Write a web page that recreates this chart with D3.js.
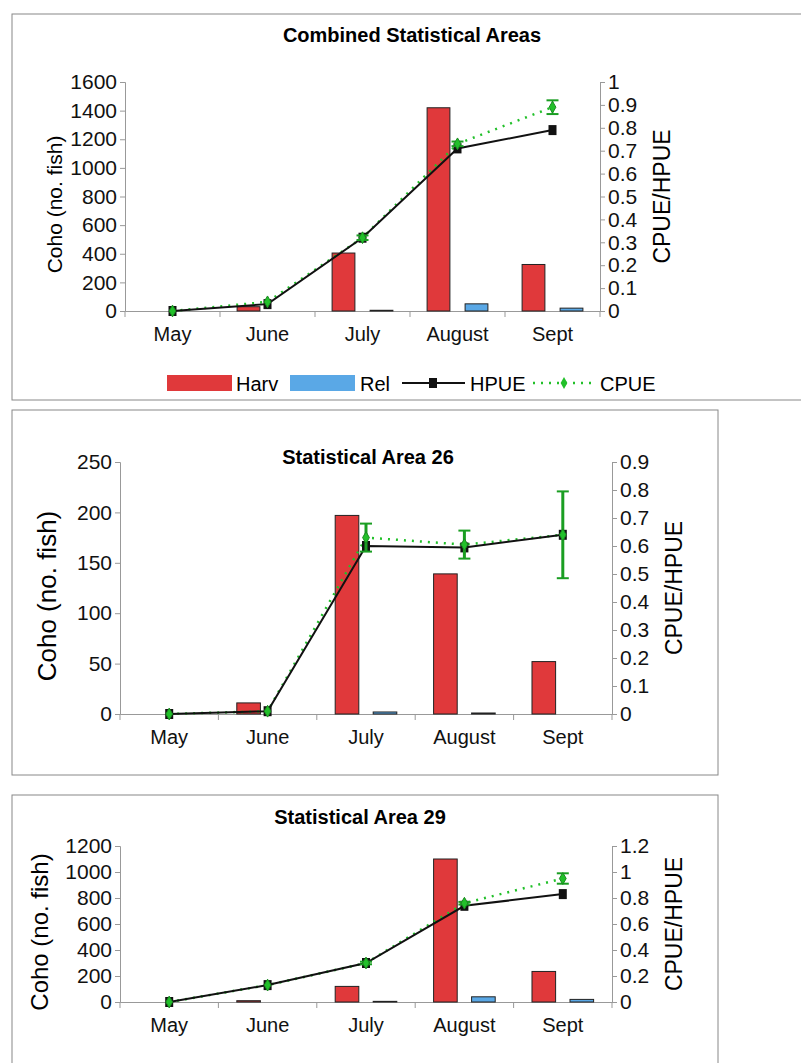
<!DOCTYPE html>
<html><head><meta charset="utf-8">
<script src="https://cdn.jsdelivr.net/npm/d3@7"></script>
<style>body{margin:0;background:#fff}svg{display:block}</style>
</head><body>
<script>
const months = ['May','June','July','August','Sept']

// Combined
const harvAll = [0,30,405,1420,325]
const relAll  = [0,0,5,50,20]
const hpueAll = [0,0.03,0.32,0.71,0.79]
const cpueAll = [0,0.04,0.32,0.73,0.89]
const cpueErrAll = [0,0.005,0.01,0.01,0.03]
// Area 26
const harv26 = [0,11,197,139,52]
const rel26  = [0,0,2,1,0]
const hpue26 = [0,0.01,0.60,0.595,0.64]
const cpue26 = [0,0.01,0.63,0.605,0.64]
const cpueErr26 = [0,0.005,0.05,0.05,0.155]
// Area 29
const harv29 = [0,10,120,1100,235]
const rel29  = [0,0,5,40,20]
const hpue29 = [0,0.13,0.30,0.74,0.83]
const cpue29 = [0,0.13,0.30,0.76,0.95]
const cpueErr29 = [0,0.005,0.01,0.01,0.04]

const leftTicksAll = [0,200,400,600,800,1000,1200,1400,1600]
const rightTicksAll = [0,0.1,0.2,0.3,0.4,0.5,0.6,0.7,0.8,0.9,1]
const leftTicks26 = [0,50,100,150,200,250]
const rightTicks26 = [0,0.1,0.2,0.3,0.4,0.5,0.6,0.7,0.8,0.9]
const leftTicks29 = [0,200,400,600,800,1000,1200]
const rightTicks29 = [0,0.2,0.4,0.6,0.8,1,1.2]

const svg = d3.select('body').append('svg').attr('width',801).attr('height',1063)
const font = '"Liberation Sans",Arial,sans-serif'

function panel(o){
	svg.append('rect').attr('x',o.box[0]).attr('y',o.box[1]).attr('width',o.box[2]).attr('height',o.box[3])
		.attr('fill','#fff').attr('stroke','#888').attr('stroke-width',1)
	svg.append('text').attr('x',o.titleX).attr('y',o.titleY).attr('text-anchor','middle')
		.attr('font-family',font).attr('font-weight','bold').attr('font-size',20).text(o.title)

	const x = d3.scaleBand().domain(months).range([o.x0,o.x1])
	const yl = d3.scaleLinear().domain([0,d3.max(o.lt)]).range([o.yb,o.yt])
	const yr = d3.scaleLinear().domain([0,d3.max(o.rt)]).range([o.yb,o.yt])
	const g = svg.append('g')

	const la = g.append('g').attr('transform',`translate(${o.x0},0)`).call(d3.axisLeft(yl).tickValues(o.lt).tickSize(5).tickFormat(d3.format('d')))
	const ra = g.append('g').attr('transform',`translate(${o.x1},0)`).call(d3.axisRight(yr).tickValues(o.rt).tickSize(5).tickFormat(d=>d3.format('~g')(d)))
	const xa = g.append('g').attr('transform',`translate(0,${o.yb})`).call(d3.axisBottom(x).tickSize(0).tickPadding(16))
	xa.selectAll('.sep').data(d3.range(6)).enter().append('line')
		.attr('x1',i=>o.x0+i*x.step()).attr('x2',i=>o.x0+i*x.step()).attr('y1',0).attr('y2',6).attr('stroke','#999')
	;[la,ra].forEach(a=>a.selectAll('text').attr('font-size',21))
	xa.selectAll('text').attr('font-size',20)
	;[la,ra,xa].forEach(a=>{
		a.selectAll('path,line').attr('stroke','#999')
		a.selectAll('text').attr('font-family',font).attr('fill','#111')
	})

	const bw = x.bandwidth()*0.24
	g.selectAll('.h').data(o.harv).enter().append('rect')
		.attr('x',(d,i)=>x(months[i])+x.bandwidth()/2-19-bw/2).attr('width',bw)
		.attr('y',d=>yl(d)).attr('height',d=>yl(0)-yl(d))
		.attr('fill','#e0393b').attr('stroke','#222').attr('stroke-width',d=>d>0?1:0)
	g.selectAll('.r').data(o.rel).enter().append('rect')
		.attr('x',(d,i)=>x(months[i])+x.bandwidth()/2+19-bw/2).attr('width',bw)
		.attr('y',d=>yl(d)).attr('height',d=>yl(0)-yl(d))
		.attr('fill','#5aa8e6').attr('stroke','#222').attr('stroke-width',d=>d>0?1:0)

	const cx = i=>x(months[i])+x.bandwidth()/2
	const line = d3.line().x((d,i)=>cx(i)).y(d=>yr(d))
	g.append('path').attr('d',line(o.cpue)).attr('fill','none').attr('stroke','#22c02a').attr('stroke-width',2.5).attr('stroke-dasharray','2,6')
	g.append('path').attr('d',line(o.hpue)).attr('fill','none').attr('stroke','#111').attr('stroke-width',2)
	g.selectAll('.hm').data(o.hpue).enter().append('rect')
		.attr('x',(d,i)=>cx(i)-4).attr('y',d=>yr(d)-5).attr('width',8).attr('height',10).attr('fill','#111')
	o.cpue.forEach((d,i)=>{
		const e = o.err[i]
		if(e>0.008){
			g.append('line').attr('x1',cx(i)).attr('x2',cx(i)).attr('y1',yr(d-e)).attr('y2',yr(d+e)).attr('stroke','#1a9e22').attr('stroke-width',o.errW)
			;[d-e,d+e].forEach(v=>g.append('line').attr('x1',cx(i)-6).attr('x2',cx(i)+6).attr('y1',yr(v)).attr('y2',yr(v)).attr('stroke','#1a9e22').attr('stroke-width',2))
		}
	})
	g.selectAll('.cm').data(o.cpue).enter().append('path')
		.attr('transform',(d,i)=>`translate(${cx(i)},${yr(d)})`).attr('d',d3.symbol(d3.symbolDiamond,40)).attr('fill','#22c02a').attr('stroke','#1a8a20')

	svg.append('text').attr('transform',`translate(${o.lblX},${(o.yt+o.yb)/2+8}) rotate(-90)`).attr('text-anchor','middle')
		.attr('font-family',font).attr('font-size',o.lblSize).text('Coho (no. fish)')
	svg.append('text').attr('transform',`translate(${o.x1+70},${(o.yt+o.yb)/2}) rotate(-90)`).attr('text-anchor','middle')
		.attr('font-family',font).attr('font-size',23).text('CPUE/HPUE')
}

panel({box:[12,14,800,386],title:'Combined Statistical Areas',titleX:412,titleY:42,x0:125,x1:600,yt:82,yb:311,
	lt:leftTicksAll,rt:rightTicksAll,harv:harvAll,rel:relAll,hpue:hpueAll,cpue:cpueAll,err:cpueErrAll,errW:1.5,lblSize:21,lblX:62})
panel({box:[12,410,706,365],title:'Statistical Area 26',titleX:368,titleY:464,x0:120,x1:612,yt:462,yb:714,
	lt:leftTicks26,rt:rightTicks26,harv:harv26,rel:rel26,hpue:hpue26,cpue:cpue26,err:cpueErr26,errW:3,lblSize:26,lblX:56})
panel({box:[12,795,706,280],title:'Statistical Area 29',titleX:360,titleY:824,x0:120,x1:612,yt:846,yb:1002,
	lt:leftTicks29,rt:rightTicks29,harv:harv29,rel:rel29,hpue:hpue29,cpue:cpue29,err:cpueErr29,errW:1.5,lblSize:24,lblX:48})

// legend for combined panel
const lg = svg.append('g').attr('font-family',font).attr('font-size',20)
lg.append('rect').attr('x',167).attr('y',375).attr('width',65).attr('height',16).attr('fill','#e0393b')
lg.append('text').attr('x',236).attr('y',391).text('Harv')
lg.append('rect').attr('x',290).attr('y',375).attr('width',65).attr('height',16).attr('fill','#5aa8e6')
lg.append('text').attr('x',360).attr('y',391).text('Rel')
lg.append('line').attr('x1',402).attr('x2',465).attr('y1',383).attr('y2',383).attr('stroke','#111').attr('stroke-width',2)
lg.append('rect').attr('x',429).attr('y',378).attr('width',8).attr('height',10).attr('fill','#111')
lg.append('text').attr('x',470).attr('y',391).text('HPUE')
lg.append('line').attr('x1',533).attr('x2',595).attr('y1',383).attr('y2',383).attr('stroke','#22c02a').attr('stroke-width',2.5).attr('stroke-dasharray','2,6')
lg.append('path').attr('transform','translate(564,383)').attr('d',d3.symbol(d3.symbolDiamond,40)).attr('fill','#22c02a')
lg.append('text').attr('x',600).attr('y',391).text('CPUE')
</script>
</body></html>
